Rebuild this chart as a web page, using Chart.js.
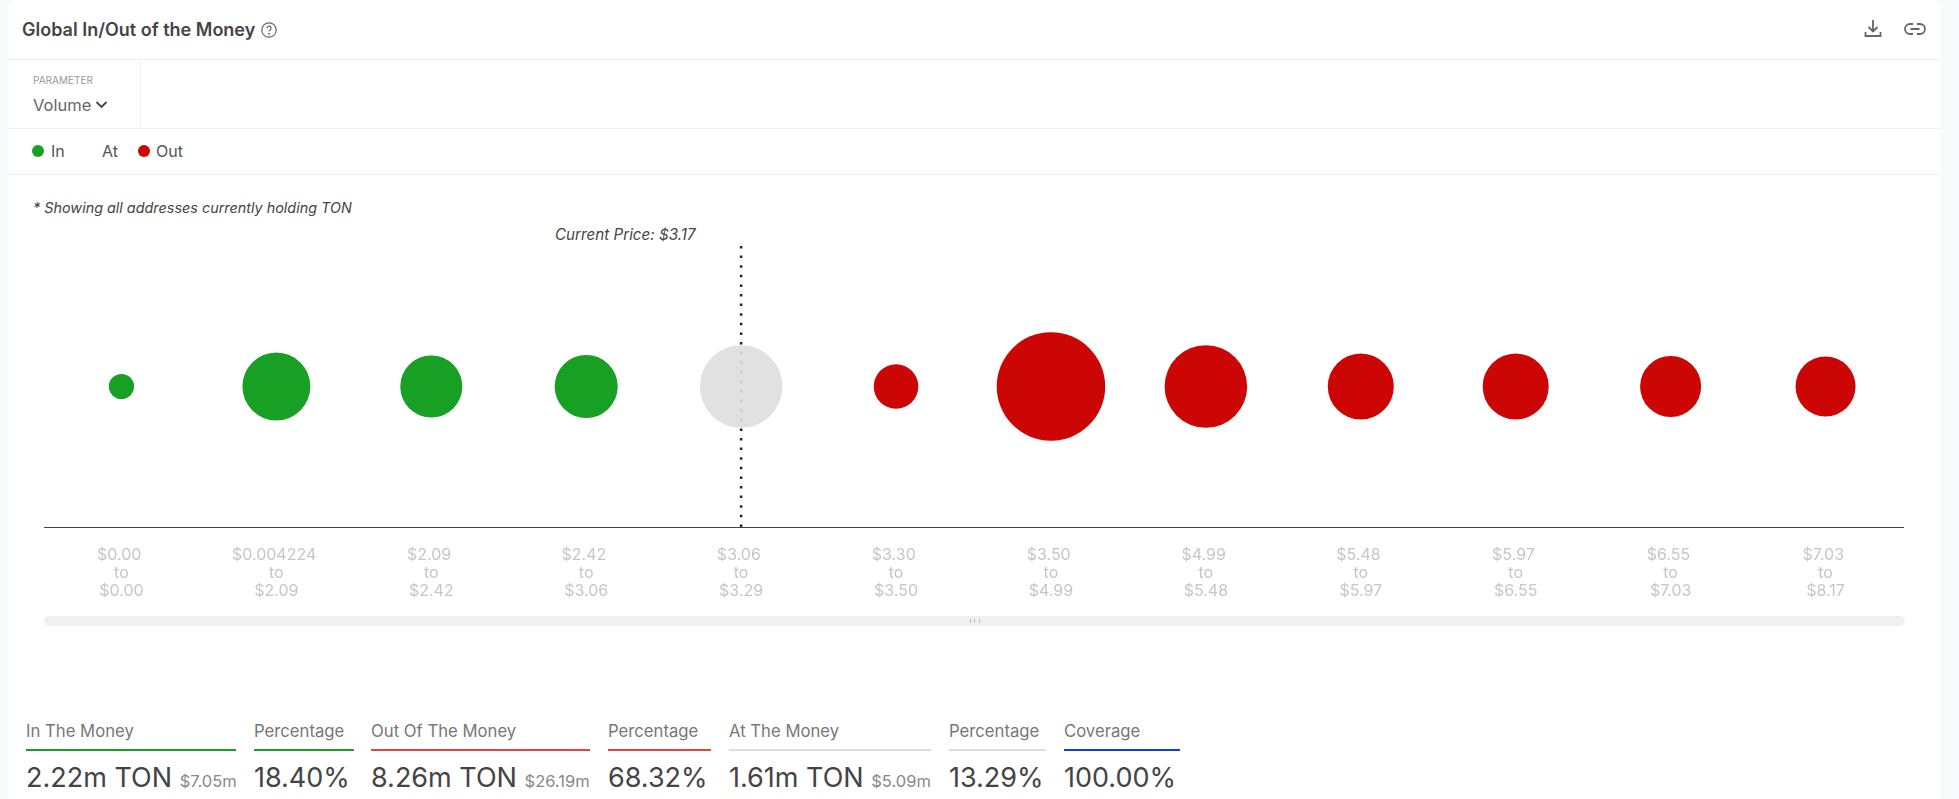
<!DOCTYPE html>
<html>
<head>
<meta charset="utf-8">
<title>Global In/Out of the Money</title>
<script src="https://cdn.jsdelivr.net/npm/chart.js@4"></script>
<style>
  html, body { margin: 0; height: 100%; background: #f8f9fb; overflow: hidden; }
  body { font-family: Inter, "Noto Sans", sans-serif; color: #444; }
  #card { position: absolute; left: 8px; top: 0; width: 1933px; height: 799px; background: #fff; border-top-left-radius: 8px; border-top-right-radius: 8px; }
  .abs { position: absolute; white-space: nowrap; line-height: 1; }
  .hline { position: absolute; left: 8px; width: 1933px; height: 1px; background: #f0f0f0; }
  .dot { position: absolute; width: 12px; height: 12px; border-radius: 50%; }
  #chartBox { position: absolute; left: 8px; top: 174px; width: 1933px; height: 466px; }
  #scroll { position: absolute; left: 44px; top: 616px; width: 1861px; height: 10px; background: #f0f0f0; border-radius: 5px; }
  #grip { position: absolute; left: 970px; top: 619px; width: 8px; height: 4px; border-left: 1px solid #bbb; border-right: 1px solid #bbb; }
  #grip:after { content: ""; position: absolute; left: 3px; top: 0; height: 4px; border-left: 1px solid #bbb; }
</style>
</head>
<body>
<div id="card"></div>

<div class="abs" style="left:22px;top:21px;font-size:18px;font-weight:600;">Global In/Out of the Money</div>
<svg class="abs" style="left:260px;top:21px" width="18" height="18" viewBox="0 0 18 18" fill="none" stroke="#666" stroke-width="1.2">
  <circle cx="9" cy="9" r="7.2"/>
  <path d="M6.9 7.2a2.1 2.1 0 1 1 3.2 1.8c-.7.4-1.1.8-1.1 1.6"/>
  <circle cx="9" cy="12.8" r=".4" fill="#666"/>
</svg>
<svg class="abs" style="left:1864px;top:19px" width="18" height="19" viewBox="0 0 18 19" fill="none" stroke="#666" stroke-width="1.8">
  <path d="M9 1v11M4.5 8l4.5 4.5L13.500 8M1.500 13v4h15v-4"/>
</svg>
<svg class="abs" style="left:1904px;top:21px" width="22" height="16" viewBox="0 0 22 16" fill="none" stroke="#666" stroke-width="1.8">
  <path d="M9 3H6a5 5 0 0 0 0 10h3M13 3h3a5 5 0 0 1 0 10h-3M6.500 8h9"/>
</svg>

<div class="hline" style="top:59px"></div>
<div class="abs" style="left:33px;top:75px;font-size:10px;color:#999;">PARAMETER</div>
<div class="abs" style="left:33px;top:97px;font-size:16.5px;color:#666;">Volume</div>
<svg class="abs" style="left:95px;top:100px" width="13" height="10" viewBox="0 0 13 10" fill="none" stroke="#444" stroke-width="1.8">
  <path d="M1.500 2l5 5 5-5"/>
</svg>
<div class="abs" style="left:140px;top:59px;width:1px;height:69px;background:#f0f0f0"></div>
<div class="hline" style="top:128px"></div>

<div class="dot" style="left:32px;top:145px;background:#18a025"></div>
<div class="abs" style="left:51px;top:143px;font-size:16px;color:#555;">In</div>
<div class="abs" style="left:102px;top:143px;font-size:16px;color:#555;">At</div>
<div class="dot" style="left:138px;top:145px;background:#cc0605"></div>
<div class="abs" style="left:156px;top:143px;font-size:16px;color:#555;">Out</div>
<div class="hline" style="top:174px"></div>

<div class="abs" style="left:33px;top:201px;font-size:14.4px;font-style:italic;">* Showing all addresses currently holding TON</div>
<div class="abs" style="left:555px;top:227px;font-size:15.2px;font-style:italic;">Current Price: $3.17</div>

<div id="scroll"></div>
<div id="grip"></div>
<div id="chartBox"><canvas id="chart"></canvas></div>
<div id="stats"></div>

<script>
    // bucket edges in USD, as printed under the axis
    const rangeFrom = ['$0.00', '$0.004224', '$2.09', '$2.42', '$3.06', '$3.30', '$3.50', '$4.99', '$5.48', '$5.97', '$6.55', '$7.03'];
    const rangeTo = ['$0.00', '$2.09', '$2.42', '$3.06', '$3.29', '$3.50', '$4.99', '$5.48', '$5.97', '$6.55', '$7.03', '$8.17'];
    const categories = rangeFrom.map((from, i) => `${from} to ${rangeTo[i]}`);

    // volume per bucket in millions of TON
    const volumes = [0.15, 1.09, 0.91, 0.94, 1.61, 0.47, 2.78, 1.61, 1.03, 1.03, 0.88, 0.85];
    const statuses = ['in', 'in', 'in', 'in', 'at', 'out', 'out', 'out', 'out', 'out', 'out', 'out'];
    const currentBucket = categories[4];

    // footer numbers
    const statLabels = ['In The Money', 'Percentage', 'Out Of The Money', 'Percentage', 'At The Money', 'Percentage', 'Coverage'];
    const statValues = ['2.22m TON', '18.40%', '8.26m TON', '68.32%', '1.61m TON', '13.29%', '100.00%'];
    const statUsd = ['$7.05m', '', '$26.19m', '', '$5.09m', '', ''];

    const statLeft = [26, 254, 371, 608, 729, 949, 1064];
    const statWidth = [210, 100, 219, 103, 202, 97, 116];
    const statColor = ['#18a025', '#18a025', '#e0443a', '#e0443a', '#dddddd', '#dddddd', '#0a3cf0'];

    let html = '';
    statLabels.forEach((label, i) => {
        html += `<div class="abs" style="left:${statLeft[i]}px;top:723px;font-size:16.7px;color:#777">${label}</div>`;
        html += `<div class="abs" style="left:${statLeft[i]}px;top:749px;width:${statWidth[i]}px;height:2px;background:${statColor[i]}"></div>`;
        html += `<div class="abs" style="left:${statLeft[i]}px;top:764px;font-size:27px;color:#444">${statValues[i]}`;
        if (statUsd[i]) {
            html += ` <span style="font-size:16.5px;color:#888">${statUsd[i]}</span>`;
        }
        html += '</div>';
    });
    document.getElementById('stats').innerHTML = html;

    const radiusPerRootVolume = 32.54;

    function bubbles(status) {
        const points = [];
        categories.forEach((category, i) => {
            if (statuses[i] === status) {
                points.push({ x: category, y: 0.5, r: Math.sqrt(volumes[i]) * radiusPerRootVolume });
            }
        });
        return points;
    }

    new Chart(document.getElementById('chart').getContext('2d'), {
        type: 'bubble',
        data: {
            labels: categories,
            datasets: [
                { label: 'In', data: bubbles('in'), backgroundColor: '#18a025', borderWidth: 0, order: 1 },
                { label: 'At', data: bubbles('at'), backgroundColor: 'rgba(222,222,222,0.9)', borderWidth: 0, order: 1 },
                { label: 'Out', data: bubbles('out'), backgroundColor: '#cc0605', borderWidth: 0, order: 1 },
                {
                    type: 'line',
                    label: 'Current Price',
                    data: [{ x: currentBucket, y: 1 }, { x: currentBucket, y: 0 }],
                    borderColor: '#222',
                    borderWidth: 2.5,
                    borderDash: [2.5, 7.1],
                    pointRadius: 0,
                    order: 2
                }
            ]
        },
        options: {
            responsive: true,
            maintainAspectRatio: false,
            animation: false,
            layout: { autoPadding: false, padding: { left: 36, right: 38, top: 72, bottom: 0 } },
            plugins: { legend: { display: false }, tooltip: { enabled: false } },
            scales: {
                x: {
                    type: 'category',
                    offset: true,
                    grid: { display: false, drawTicks: false },
                    border: { display: true, color: '#444', width: 1 },
                    afterFit: function(scale) { scale.height = 113; },
                    ticks: {
                        autoSkip: false,
                        maxRotation: 0,
                        padding: 19,
                        color: '#c6c6c6',
                        font: { family: 'Inter', size: 16, lineHeight: 1.125 },
                        callback: function(value, index) {
                            // the first line carries a trailing space in the original
                            return [rangeFrom[index] + ' ', 'to', rangeTo[index]];
                        }
                    }
                },
                y: { display: false, min: 0, max: 1 }
            }
        }
    });
</script>
</body>
</html>
